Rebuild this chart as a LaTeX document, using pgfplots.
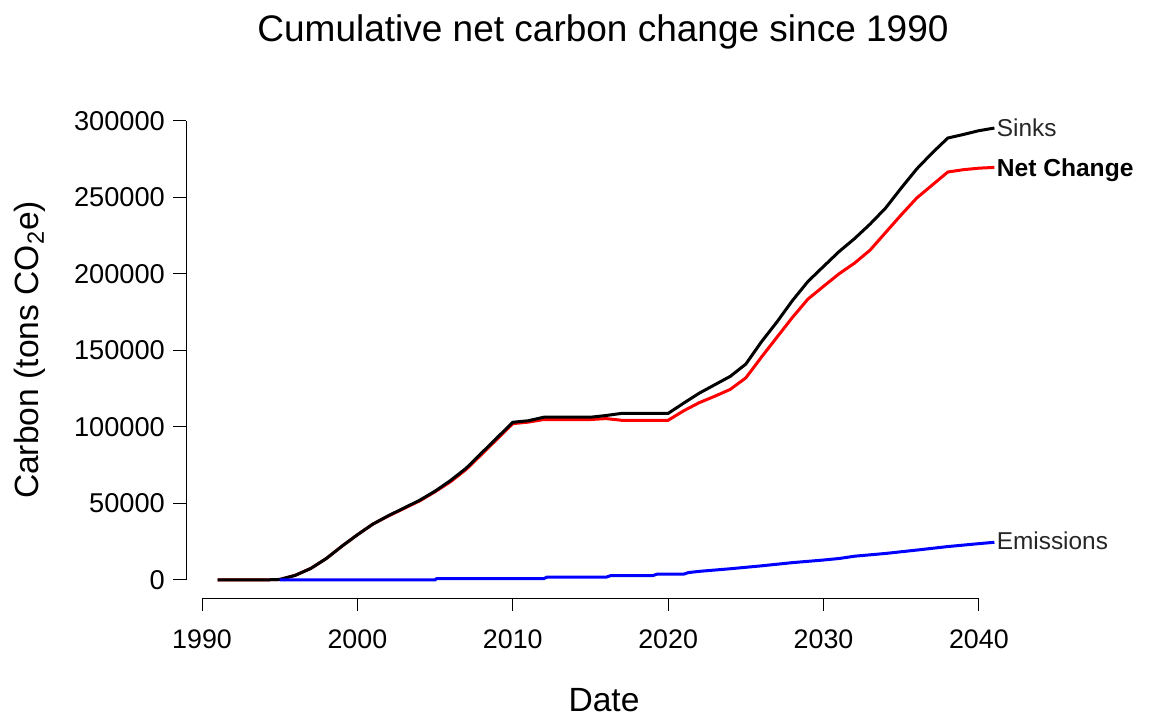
\documentclass[border=0pt]{standalone}
\usepackage{fontspec}
\setmainfont{Liberation Sans}
\usepackage{pgfplots}
\usepackage{pgfplotstable}
\pgfplotsset{compat=1.18}

\pgfplotstableread{
year value
1991 0
1992 0
1993 0
1994 0
1995 300
1996 3000
1997 7500
1998 14000
1999 22000
2000 29500
2001 36500
2002 42000
2003 47000
2004 52000
2005 58000
2006 65000
2007 73000
2008 83000
2009 93000
2010 103000
2011 104000
2012 106300
2015 106300
2016 107400
2017 108800
2020 108800
2021 115500
2022 122000
2023 127500
2024 133000
2025 141000
2026 155500
2027 168500
2028 182500
2029 195000
2030 204800
2031 214500
2032 223000
2033 232500
2034 243000
2035 256000
2036 268500
2037 279000
2038 288700
2039 291000
2040 293500
2041 295200
}\sinks

\pgfplotstableread{
year value
1991 0
1992 0
1993 0
1994 0
1995 300
1996 3000
1997 7500
1998 14000
1999 22000
2000 29500
2001 36500
2002 41800
2003 46700
2004 51600
2005 57600
2006 64200
2007 72200
2008 82100
2009 92100
2010 102100
2011 103100
2012 104800
2015 104800
2016 105400
2017 104300
2020 104300
2021 110500
2022 115800
2023 120000
2024 124500
2025 132000
2026 145500
2027 158500
2028 171500
2029 183500
2030 191800
2031 200000
2032 207000
2033 215500
2034 227000
2035 238500
2036 249500
2037 258000
2038 266500
2039 268000
2040 269000
2041 269500
}\net

\pgfplotstableread{
year value
1995 0
2005 0
2005.1 900
2012 900
2012.2 1800
2016 1800
2016.3 2800
2019 2800
2019.3 3800
2021 3800
2021.3 4800
2022 5600
2024 7300
2026 9200
2028 11300
2030 13000
2031 14000
2032 15500
2034 17300
2036 19500
2038 21800
2040 23700
2041 24600
}\emis

\begin{document}
\begin{tikzpicture}
\path[use as bounding box] (-93.25pt,-60pt) rectangle (482.25pt,299pt);
\begin{axis}[
  at={(0pt,0pt)}, anchor=south west,
  scale only axis, width=419.5pt, height=244pt,
  xmin=1989, xmax=2043, ymin=-11808, ymax=307008,
  axis x line*=bottom, axis y line*=left,
  axis line style={draw=none},
  x axis line style={-}, y axis line style={-},
  tick align=outside, major tick length=6.5pt,
  tick style={line width=0.5pt, black},
  xtick={1990,2000,...,2040},
  ytick={0,50000,...,300000},
  scaled y ticks=false,
  xticklabel style={font=\fontsize{13.4}{15}\selectfont, yshift=-6pt, /pgf/number format/1000 sep={}, /pgf/number format/assume math mode=true},
  yticklabel style={font=\fontsize{13.6}{15}\selectfont, xshift=-0.8pt, /pgf/number format/fixed, /pgf/number format/1000 sep={}, /pgf/number format/assume math mode=true},
  clip=false,
]
\addplot[red, line width=1.5pt] table[x=year, y=value] {\net};
\addplot[black, line width=1.5pt] table[x=year, y=value] {\sinks};
\addplot[blue, line width=1.5pt] table[x=year, y=value] {\emis};
\draw[line width=0.5pt] (axis cs:1990,-11808) -- (axis cs:2040,-11808);
\draw[line width=0.5pt] (axis cs:1989,0) -- (axis cs:1989,300000);
\node[anchor=west, inner sep=1pt, font=\fontsize{12.2}{14}\selectfont, text=black!85] at (axis cs:2041,295200) {Sinks};
\node[anchor=west, inner sep=1pt, font=\fontsize{12.3}{14}\selectfont\bfseries] at (axis cs:2041,268000) {Net Change};
\node[anchor=west, inner sep=1pt, font=\fontsize{12.2}{14}\selectfont, text=black!85] at (axis cs:2041,25400) {Emissions};
\end{axis}
\node[font=\fontsize{18.5}{22}\selectfont] at (208.25pt,283pt) {Cumulative net carbon change since 1990};
\node[font=\fontsize{16.8}{20}\selectfont] at (208.75pt,-51pt) {Date};
\node[font=\fontsize{16.8}{20}\selectfont, rotate=90] at (-78.25pt,124pt) {Carbon (tons CO\textsubscript{2}e)};
\end{tikzpicture}
\end{document}
